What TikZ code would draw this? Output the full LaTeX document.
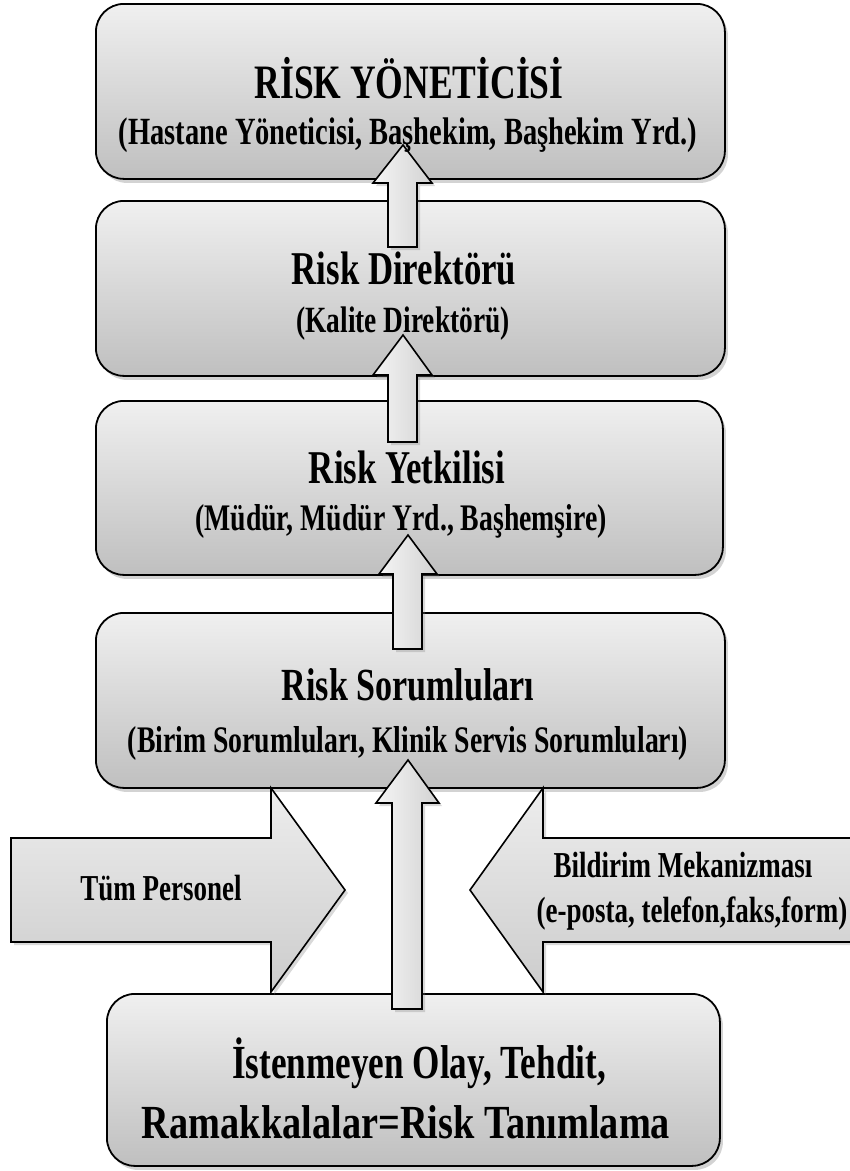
\documentclass[tikz,border=0pt]{standalone}
\usepackage{fontspec}
\newfontfamily\cf{Liberation Serif}[FakeStretch=0.74]
\usetikzlibrary{shadows}
\newcommand\fs[1]{\cf\bfseries\fontsize{#1}{#1}\selectfont}
\begin{document}
\begin{tikzpicture}[x=1pt,y=-1pt,
  box/.style={draw=black, line width=1.8pt, rounded corners=28pt,
    top color=gray!12, bottom color=gray!50,
    drop shadow={opacity=0.35, shadow xshift=3pt, shadow yshift=-4pt},
    anchor=north west, inner sep=0pt},
  uparrow/.style={draw=black, line width=1.6pt, line join=miter,
    left color=gray!8, right color=gray!35,
    drop shadow={opacity=0.3, shadow xshift=3pt, shadow yshift=-3pt}},
  sidearrow/.style={draw=black, line width=1.6pt, line join=miter,
    top color=gray!14, bottom color=gray!40,
    drop shadow={opacity=0.3, shadow xshift=3pt, shadow yshift=-3pt}},
  lbl/.style={anchor=base, inner sep=0pt}]
\useasboundingbox (0,0) rectangle (850,1171);

% boxes
\node[box, minimum width=629pt, minimum height=175pt] (b1) at (95,3) {};
\node[box, minimum width=629pt, minimum height=175pt] (b2) at (95,200) {};
\node[box, minimum width=627pt, minimum height=174pt] (b3) at (95,400) {};
\node[box, minimum width=629pt, minimum height=175pt] (b4) at (95,612) {};
\node[box, minimum width=613pt, minimum height=172pt] (b5) at (106,993) {};

% side arrows
\path[sidearrow] (11,838) -- (271,838) -- (271,788) -- (345,890) -- (271,992) -- (271,942) -- (11,942) -- cycle;
\path[sidearrow] (860,838) -- (543,838) -- (543,788) -- (470,890) -- (543,992) -- (543,942) -- (860,942) -- cycle;

% up arrows
\path[uparrow] (388,247) -- (388,183) -- (373,183) -- (403,145) -- (432,183) -- (417,183) -- (417,247) -- cycle;
\path[uparrow] (388,442) -- (388,375) -- (373,375) -- (403,335) -- (432,375) -- (417,375) -- (417,442) -- cycle;
\path[uparrow] (393,649) -- (393,574) -- (379,574) -- (408,535) -- (437,574) -- (422,574) -- (422,649) -- cycle;
\path[uparrow] (392,1009) -- (392,803) -- (376,803) -- (408,760) -- (439,803) -- (422,803) -- (422,1009) -- cycle;

% texts
\node[lbl, font=\fs{48}] (t1) at (409,98) {RİSK YÖNETİCİSİ};
\node[lbl, font=\fs{38.5}] (s1) at (408,144) {(Hastane Yöneticisi, Başhekim, Başhekim Yrd.)};
\node[lbl, font=\fs{47}] (t2) at (404,284) {Risk Direktörü};
\node[lbl, font=\fs{37}] (s2) at (403,332) {(Kalite Direktörü)};
\node[lbl, font=\fs{47}] (t3) at (407,483) {Risk Yetkilisi};
\node[lbl, font=\fs{37.5}] (s3) at (401,530) {(Müdür, Müdür Yrd., Başhemşire)};
\node[lbl, font=\fs{46}] (t4) at (408,700) {Risk Sorumluları};
\node[lbl, font=\fs{37.5}] (s4) at (408,752) {(Birim Sorumluları, Klinik Servis Sorumluları)};
\node[lbl, font=\fs{36.5}] (l1) at (161,900) {Tüm Personel};
\node[lbl, font=\fs{36.5}] (r1) at (683,877) {Bildirim Mekanizması};
\node[lbl, font=\fs{36.5}] (r2) at (692,922) {(e-posta, telefon,faks,form)};
\node[lbl, font=\fs{47.5}] (t5) at (419,1078) {İstenmeyen Olay, Tehdit,};
\node[lbl, font=\fs{47.5}] (s5) at (406,1138) {\scalebox{1.09}[1]{Ramakkalalar=Risk Tanımlama}};
\end{tikzpicture}
\end{document}
